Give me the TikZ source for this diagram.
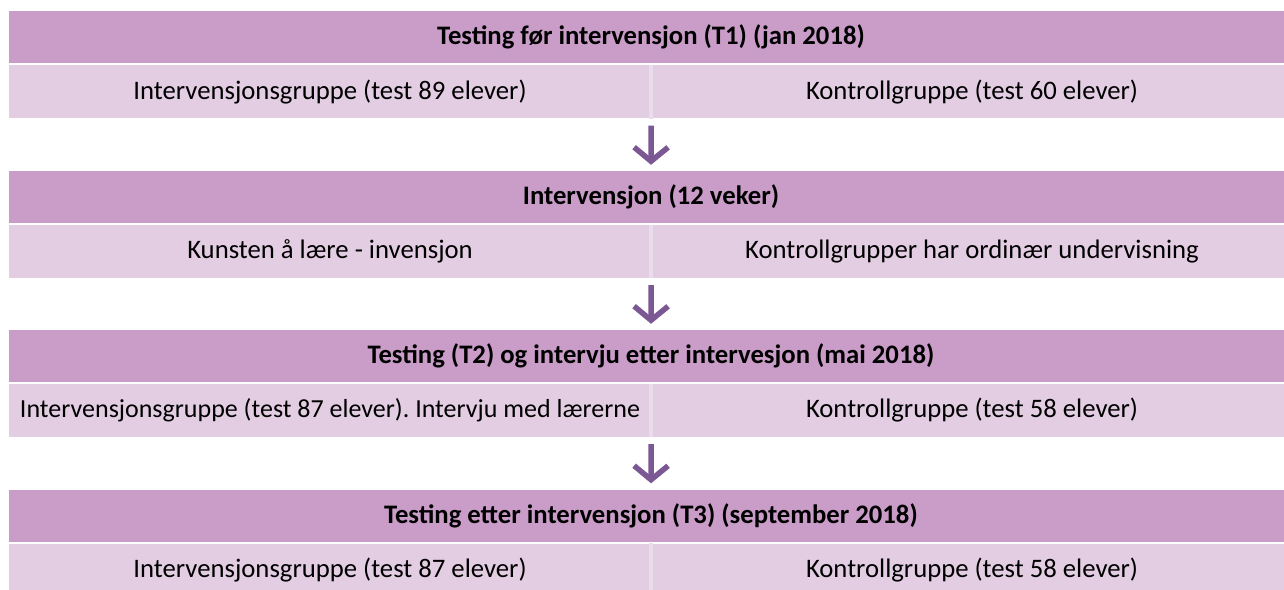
\documentclass[tikz,border=0pt]{standalone}
\usepackage{fontspec}
\setmainfont{Carlito}
\frenchspacing
\usetikzlibrary{arrows.meta}
\definecolor{hdr}{HTML}{CA9DC9}
\definecolor{rowc}{HTML}{E3CDE3}
\definecolor{divc}{HTML}{EBDCEB}
\definecolor{arr}{HTML}{7B5794}
\tikzset{
  hdrbox/.style={fill=hdr, draw=none, minimum width=1284bp, minimum height=52bp, inner sep=0pt, font=\fontsize{26.7bp}{30bp}\selectfont\bfseries, text=black},
  rowbox/.style={fill=rowc, draw=none, minimum width=642bp, minimum height=53bp, inner sep=0pt, font=\fontsize{26.7bp}{30bp}\selectfont, text=black},
  divline/.style={draw=divc, line width=4bp},
  flowarrow/.style={draw=arr, line width=5.5bp, -{Straight Barb[length=14bp, width=34bp, line width=5.5bp]}, shorten <=7bp, shorten >=6bp},
}
\begin{document}
\begin{tikzpicture}[x=1bp, y=-1bp]
\useasboundingbox (0,0) rectangle (1284,590);
\clip (0,0) rectangle (1284,590);
% block 1
\node[hdrbox] (h1) at (651,37) {Testing før intervensjon (T1) (jan 2018)};
\node[rowbox] (l1) at (330,92) {Intervensjonsgruppe (test 89 elever)};
\node[rowbox] (r1) at (972,92) {Kontrollgruppe (test 60 elever)};
% block 2
\node[hdrbox] (h2) at (651,197) {Intervensjon (12 veker)};
\node[rowbox] (l2) at (330,251.5) {Kunsten å lære - invensjon};
\node[rowbox] (r2) at (972,251.5) {Kontrollgrupper har ordinær undervisning};
% block 3
\node[hdrbox] (h3) at (651,356) {Testing (T2) og intervju etter intervesjon (mai 2018)};
\node[rowbox, font=\fontsize{26bp}{30bp}\selectfont] (l3) at (330,410.5) {Intervensjonsgruppe (test 87 elever). Intervju med lærerne};
\node[rowbox] (r3) at (972,410.5) {Kontrollgruppe (test 58 elever)};
% block 4
\node[hdrbox] (h4) at (651,515.5) {Testing etter intervensjon (T3) (september 2018)};
\node[rowbox] (l4) at (330,570) {Intervensjonsgruppe (test 87 elever)};
\node[rowbox] (r4) at (972,570) {Kontrollgruppe (test 58 elever)};
% dividers
\foreach \a/\b in {l1/r1,l2/r2,l3/r3,l4/r4}
  \draw[divline] (\a.north east) -- (\a.south east);
% arrows
\draw[flowarrow] (l1.south east) -- (h2.north);
\draw[flowarrow] (l2.south east) -- (h3.north);
\draw[flowarrow] (l3.south east) -- (h4.north);
\end{tikzpicture}
\end{document}
